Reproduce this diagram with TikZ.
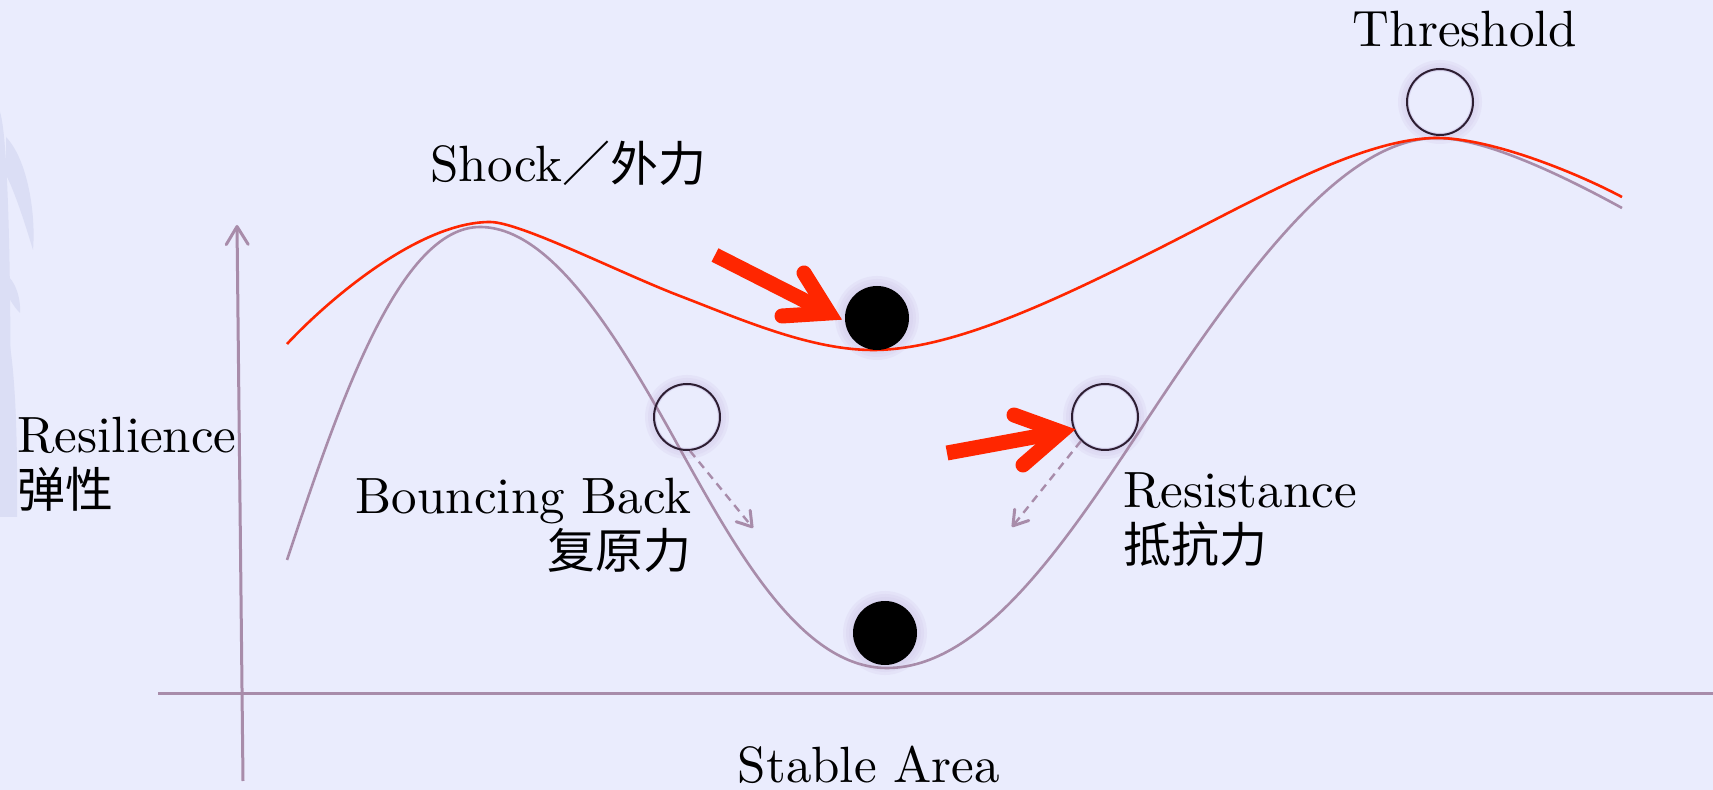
\documentclass[tikz,border=0pt]{standalone}
\usepackage{fontspec}
\setmainfont{lmroman10-regular}[Extension=.otf]
\newfontfamily\cjk{Noto Sans CJK SC}[Scale=0.94]
\usetikzlibrary{arrows.meta}

\definecolor{fondo}{RGB}{234,236,253}
\definecolor{gris}{RGB}{168,140,170}
\definecolor{rojo}{RGB}{255,38,0}
\definecolor{borde}{RGB}{45,30,50}
\definecolor{halo}{RGB}{205,195,232}
\definecolor{marca}{RGB}{219,222,245}

\tikzset{
  texto/.style={inner sep=0pt, font=\fontsize{25.5}{27.5}\selectfont},
  eje/.style={gris, line width=1.5pt},
  curvagris/.style={gris, line width=1.3pt},
  curvaroja/.style={rojo, line width=1.3pt},
  bola/.style={circle, fill=black, minimum size=32pt, inner sep=0pt},
  hueco/.style={circle, draw=borde, line width=1pt, minimum size=33pt, inner sep=0pt},
  empuje/.style={rojo, line width=7.5pt},
  cabeza/.style={rojo, line width=7.5pt, line cap=round, line join=miter},
  caida/.style={gris, line width=1.2pt, dash pattern=on 4pt off 3pt,
    -{Straight Barb[length=7pt,width=9pt,line width=1.5pt,round]}},
}

\begin{document}
\begin{tikzpicture}[x=0.5pt, y=-0.5pt]
    % Fondo
    \fill[fondo] (0,0) rectangle (1713,790);
    \useasboundingbox (0,0) rectangle (1713,790);

    % Marca de agua a la izquierda
    \fill[marca] (0,112) .. controls (9,140) and (12,300) .. (10,517) -- (0,517) -- cycle;
    \fill[marca] (6,137) .. controls (28,160) and (36,215) .. (33,250) .. controls (24,220) and (14,190) .. (6,175) -- cycle;
    \fill[marca] (4,273) .. controls (16,280) and (21,300) .. (20,313) .. controls (12,305) and (8,295) .. (4,290) -- cycle;
    \fill[marca] (0,313) .. controls (14,330) and (18,420) .. (17,517) -- (0,517) -- cycle;

    % Ejes
    \coordinate (ejeYpie) at (243,781);
    \coordinate (ejeYtope) at (237,225);
    \coordinate (ejeXizq) at (158,693);
    \coordinate (ejeXder) at (1713,693);
    \draw[eje, -{Straight Barb[length=9pt,width=11pt,round]}] (ejeYpie) -- (ejeYtope);
    \draw[eje] (ejeXizq) -- (ejeXder);

    % Halos de las bolas
    \foreach \x/\y in {877/318, 885/633, 687/417, 1105/417, 1440/102}
      \foreach \r in {21,19.5,18,16.5}
        \fill[halo, opacity=0.2, even odd rule] (\x,\y) circle (\r pt) circle (15.5pt);

    % Curva del estado estable
    \draw[curvagris] (287,560) .. controls (340,400) and (400,227) .. (480,227)
      .. controls (550,227) and (615,332) .. (675,440)
      .. controls (735,548) and (800,668) .. (887,668)
      .. controls (990,668) and (1080,520) .. (1160,400)
      .. controls (1260,250) and (1350,138) .. (1437,138)
      .. controls (1490,138) and (1580,185) .. (1622,208);
    % Curva tras el choque
    \draw[curvaroja] (287,344) .. controls (330,298) and (420,222) .. (490,222)
      .. controls (520,222) and (620,273) .. (680,296)
      .. controls (740,319) and (810,350) .. (873,350)
      .. controls (950,350) and (1050,303) .. (1150,253)
      .. controls (1250,203) and (1360,138) .. (1437,138)
      .. controls (1490,138) and (1575,172) .. (1622,197);

    % Bolas y huecos
    \node[bola] (bolaArriba) at (877,318) {};
    \node[bola] (bolaAbajo) at (885,633) {};
    \node[hueco] (huecoIzq) at (687,417) {};
    \node[hueco] (huecoDer) at (1105,417) {};
    \node[hueco] (huecoCima) at (1440,102) {};

    % Flechas rojas (fuerzas)
    \coordinate (cola1) at (715,255);
    \coordinate (punta1) at (829,313);
    \draw[empuje] (cola1) -- (punta1);
    \draw[cabeza] (804,273) -- (punta1) -- (782,316);
    \coordinate (cola2) at (947,453);
    \coordinate (punta2) at (1061,432);
    \draw[empuje] (cola2) -- (punta2);
    \draw[cabeza] (1014,415) -- (punta2) -- (1023,465);

    % Flechas punteadas de retorno
    \coordinate (finIzq) at (753,528);
    \coordinate (finDer) at (1012,527);
    \draw[caida] (huecoIzq.-85) -- (finIzq);
    \draw[caida] (huecoDer.225) -- (finDer);

    % Textos
    \node[texto, anchor=base] (umbral) at (1465,47) {Threshold};
    \node[texto, anchor=base west] (choque) at (430,182) {Shock{\cjk ／外力}};
    \node[texto, anchor=north west, align=left] (resiliencia) at (17,417) {Resilience\\{\cjk 弹性}};
    \node[texto, anchor=north east, align=right] (rebote) at (692,478) {Bouncing Back\\{\cjk 复原力}};
    \node[texto, anchor=north west, align=left] (resistencia) at (1123,472) {Resistance\\{\cjk 抵抗力}};
    \node[texto, anchor=base] (estable) at (869,782) {Stable Area};
\end{tikzpicture}
\end{document}
